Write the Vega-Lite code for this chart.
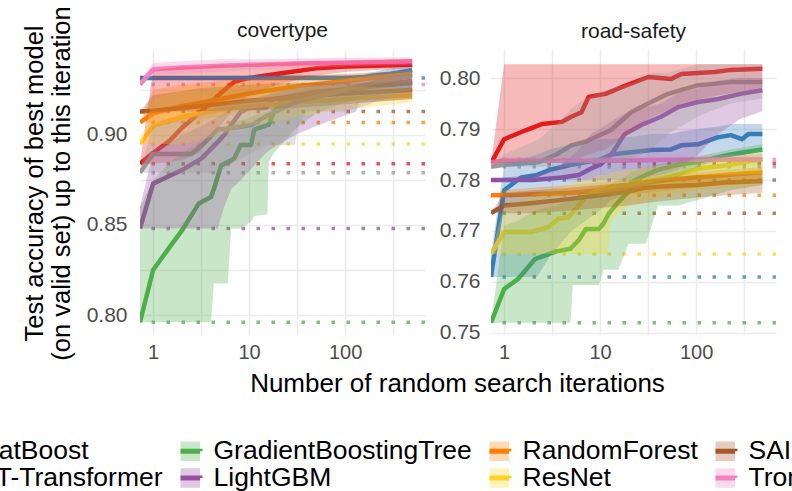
{
  "$schema": "https://vega.github.io/schema/vega-lite/v6.json",
  "padding": {"left": -57, "top": 5, "right": -40, "bottom": 0},
  "background": "white",
  "config": {
    "font": "Liberation Sans",
    "view": {"stroke": null},
    "axis": {"grid": true, "gridColor": "#EBEBEB", "gridWidth": 1.5, "domain": false, "ticks": false, "labelFont": "Liberation Sans", "labelColor": "#4D4D4D", "labelOverlap": false, "labelFlush": false, "titleFont": "Liberation Sans", "titleColor": "#000000", "titleFontWeight": "normal"}
  },
  "datasets": {
    "defaults": [
      {"d": "covertype", "m": "CatBoost", "v": 0.884},
      {"d": "covertype", "m": "FT-Transformer", "v": 0.9317},
      {"d": "covertype", "m": "GradientBoostingTree", "v": 0.796},
      {"d": "covertype", "m": "LightGBM", "v": 0.848},
      {"d": "covertype", "m": "RandomForest", "v": 0.907},
      {"d": "covertype", "m": "ResNet", "v": 0.895},
      {"d": "covertype", "m": "SAINT", "v": 0.913},
      {"d": "covertype", "m": "Trompt", "v": 0.928},
      {"d": "covertype", "m": "XGBoost", "v": 0.879},
      {"d": "road-safety", "m": "CatBoost", "v": 0.7833},
      {"d": "road-safety", "m": "FT-Transformer", "v": 0.761},
      {"d": "road-safety", "m": "GradientBoostingTree", "v": 0.752},
      {"d": "road-safety", "m": "LightGBM", "v": 0.78},
      {"d": "road-safety", "m": "RandomForest", "v": 0.777},
      {"d": "road-safety", "m": "ResNet", "v": 0.7655},
      {"d": "road-safety", "m": "SAINT", "v": 0.7735},
      {"d": "road-safety", "m": "Trompt", "v": 0.784},
      {"d": "road-safety", "m": "XGBoost", "v": 0.7826}
    ],
    "curves": [
      {"d": "covertype", "m": "CatBoost", "n": 0.73, "v": 0.884, "lo": 0.884, "hi": 0.884},
      {"d": "covertype", "m": "CatBoost", "n": 1, "v": 0.89, "lo": 0.884, "hi": 0.936},
      {"d": "covertype", "m": "CatBoost", "n": 1.5, "v": 0.897, "lo": 0.885, "hi": 0.937},
      {"d": "covertype", "m": "CatBoost", "n": 2, "v": 0.904, "lo": 0.886, "hi": 0.938},
      {"d": "covertype", "m": "CatBoost", "n": 3, "v": 0.912, "lo": 0.89, "hi": 0.938},
      {"d": "covertype", "m": "CatBoost", "n": 5, "v": 0.923, "lo": 0.905, "hi": 0.939},
      {"d": "covertype", "m": "CatBoost", "n": 7, "v": 0.9295, "lo": 0.915, "hi": 0.939},
      {"d": "covertype", "m": "CatBoost", "n": 10, "v": 0.9317, "lo": 0.922, "hi": 0.9395},
      {"d": "covertype", "m": "CatBoost", "n": 20, "v": 0.934, "lo": 0.928, "hi": 0.94},
      {"d": "covertype", "m": "CatBoost", "n": 50, "v": 0.937, "lo": 0.933, "hi": 0.941},
      {"d": "covertype", "m": "CatBoost", "n": 100, "v": 0.938, "lo": 0.935, "hi": 0.941},
      {"d": "covertype", "m": "CatBoost", "n": 200, "v": 0.9385, "lo": 0.936, "hi": 0.9415},
      {"d": "covertype", "m": "CatBoost", "n": 500, "v": 0.939, "lo": 0.937, "hi": 0.942},

      {"d": "covertype", "m": "FT-Transformer", "n": 0.73, "v": 0.9317, "lo": 0.9317, "hi": 0.9317},
      {"d": "covertype", "m": "FT-Transformer", "n": 1, "v": 0.9317, "lo": 0.9317, "hi": 0.9325},
      {"d": "covertype", "m": "FT-Transformer", "n": 10, "v": 0.9317, "lo": 0.9317, "hi": 0.933},
      {"d": "covertype", "m": "FT-Transformer", "n": 100, "v": 0.9317, "lo": 0.9317, "hi": 0.9335},
      {"d": "covertype", "m": "FT-Transformer", "n": 150, "v": 0.932, "lo": 0.9317, "hi": 0.934},
      {"d": "covertype", "m": "FT-Transformer", "n": 200, "v": 0.933, "lo": 0.9317, "hi": 0.935},
      {"d": "covertype", "m": "FT-Transformer", "n": 300, "v": 0.934, "lo": 0.932, "hi": 0.937},
      {"d": "covertype", "m": "FT-Transformer", "n": 500, "v": 0.936, "lo": 0.933, "hi": 0.938},

      {"d": "covertype", "m": "GradientBoostingTree", "n": 0.73, "v": 0.796, "lo": 0.796, "hi": 0.86},
      {"d": "covertype", "m": "GradientBoostingTree", "n": 1, "v": 0.825, "lo": 0.796, "hi": 0.875},
      {"d": "covertype", "m": "GradientBoostingTree", "n": 1.5, "v": 0.838, "lo": 0.796, "hi": 0.885},
      {"d": "covertype", "m": "GradientBoostingTree", "n": 2, "v": 0.847, "lo": 0.796, "hi": 0.89},
      {"d": "covertype", "m": "GradientBoostingTree", "n": 3, "v": 0.862, "lo": 0.796, "hi": 0.895},
      {"d": "covertype", "m": "GradientBoostingTree", "n": 4, "v": 0.8655, "lo": 0.796, "hi": 0.9},
      {"d": "covertype", "m": "GradientBoostingTree", "n": 4.3, "v": 0.87, "lo": 0.8175, "hi": 0.901},
      {"d": "covertype", "m": "GradientBoostingTree", "n": 5.1, "v": 0.883, "lo": 0.8175, "hi": 0.903},
      {"d": "covertype", "m": "GradientBoostingTree", "n": 6, "v": 0.885, "lo": 0.8175, "hi": 0.905},
      {"d": "covertype", "m": "GradientBoostingTree", "n": 6.5, "v": 0.886, "lo": 0.848, "hi": 0.906},
      {"d": "covertype", "m": "GradientBoostingTree", "n": 7, "v": 0.887, "lo": 0.848, "hi": 0.907},
      {"d": "covertype", "m": "GradientBoostingTree", "n": 8.2, "v": 0.8945, "lo": 0.848, "hi": 0.908},
      {"d": "covertype", "m": "GradientBoostingTree", "n": 10.5, "v": 0.8945, "lo": 0.852, "hi": 0.91},
      {"d": "covertype", "m": "GradientBoostingTree", "n": 11.3, "v": 0.903, "lo": 0.855, "hi": 0.911},
      {"d": "covertype", "m": "GradientBoostingTree", "n": 15.5, "v": 0.9055, "lo": 0.856, "hi": 0.913},
      {"d": "covertype", "m": "GradientBoostingTree", "n": 16, "v": 0.9055, "lo": 0.885, "hi": 0.914},
      {"d": "covertype", "m": "GradientBoostingTree", "n": 18.2, "v": 0.913, "lo": 0.89, "hi": 0.917},
      {"d": "covertype", "m": "GradientBoostingTree", "n": 21.6, "v": 0.918, "lo": 0.8945, "hi": 0.921},
      {"d": "covertype", "m": "GradientBoostingTree", "n": 30, "v": 0.92, "lo": 0.903, "hi": 0.924},
      {"d": "covertype", "m": "GradientBoostingTree", "n": 50, "v": 0.923, "lo": 0.912, "hi": 0.927},
      {"d": "covertype", "m": "GradientBoostingTree", "n": 100, "v": 0.925, "lo": 0.918, "hi": 0.929},
      {"d": "covertype", "m": "GradientBoostingTree", "n": 200, "v": 0.927, "lo": 0.922, "hi": 0.931},
      {"d": "covertype", "m": "GradientBoostingTree", "n": 500, "v": 0.929, "lo": 0.925, "hi": 0.932},

      {"d": "covertype", "m": "LightGBM", "n": 0.73, "v": 0.848, "lo": 0.848, "hi": 0.86},
      {"d": "covertype", "m": "LightGBM", "n": 1, "v": 0.873, "lo": 0.848, "hi": 0.89},
      {"d": "covertype", "m": "LightGBM", "n": 2, "v": 0.8805, "lo": 0.848, "hi": 0.9},
      {"d": "covertype", "m": "LightGBM", "n": 3.2, "v": 0.887, "lo": 0.848, "hi": 0.905},
      {"d": "covertype", "m": "LightGBM", "n": 4.7, "v": 0.896, "lo": 0.848, "hi": 0.91},
      {"d": "covertype", "m": "LightGBM", "n": 5.5, "v": 0.9, "lo": 0.86, "hi": 0.912},
      {"d": "covertype", "m": "LightGBM", "n": 6.5, "v": 0.9055, "lo": 0.87, "hi": 0.915},
      {"d": "covertype", "m": "LightGBM", "n": 8.2, "v": 0.913, "lo": 0.875, "hi": 0.918},
      {"d": "covertype", "m": "LightGBM", "n": 10, "v": 0.915, "lo": 0.88, "hi": 0.92},
      {"d": "covertype", "m": "LightGBM", "n": 15, "v": 0.915, "lo": 0.89, "hi": 0.922},
      {"d": "covertype", "m": "LightGBM", "n": 18, "v": 0.92, "lo": 0.893, "hi": 0.924},
      {"d": "covertype", "m": "LightGBM", "n": 30, "v": 0.922, "lo": 0.9, "hi": 0.926},
      {"d": "covertype", "m": "LightGBM", "n": 50, "v": 0.924, "lo": 0.905, "hi": 0.928},
      {"d": "covertype", "m": "LightGBM", "n": 130, "v": 0.926, "lo": 0.913, "hi": 0.93},
      {"d": "covertype", "m": "LightGBM", "n": 140, "v": 0.927, "lo": 0.918, "hi": 0.931},
      {"d": "covertype", "m": "LightGBM", "n": 500, "v": 0.93, "lo": 0.92, "hi": 0.934},

      {"d": "covertype", "m": "RandomForest", "n": 0.73, "v": 0.907, "lo": 0.907, "hi": 0.907},
      {"d": "covertype", "m": "RandomForest", "n": 1, "v": 0.912, "lo": 0.907, "hi": 0.925},
      {"d": "covertype", "m": "RandomForest", "n": 2, "v": 0.916, "lo": 0.907, "hi": 0.928},
      {"d": "covertype", "m": "RandomForest", "n": 5, "v": 0.92, "lo": 0.91, "hi": 0.93},
      {"d": "covertype", "m": "RandomForest", "n": 10, "v": 0.923, "lo": 0.913, "hi": 0.931},
      {"d": "covertype", "m": "RandomForest", "n": 30, "v": 0.927, "lo": 0.918, "hi": 0.933},
      {"d": "covertype", "m": "RandomForest", "n": 100, "v": 0.93, "lo": 0.924, "hi": 0.934},
      {"d": "covertype", "m": "RandomForest", "n": 500, "v": 0.934, "lo": 0.929, "hi": 0.936},

      {"d": "covertype", "m": "ResNet", "n": 0.73, "v": 0.895, "lo": 0.895, "hi": 0.895},
      {"d": "covertype", "m": "ResNet", "n": 1, "v": 0.905, "lo": 0.895, "hi": 0.92},
      {"d": "covertype", "m": "ResNet", "n": 2, "v": 0.91, "lo": 0.895, "hi": 0.925},
      {"d": "covertype", "m": "ResNet", "n": 5, "v": 0.914, "lo": 0.9, "hi": 0.927},
      {"d": "covertype", "m": "ResNet", "n": 10, "v": 0.916, "lo": 0.905, "hi": 0.928},
      {"d": "covertype", "m": "ResNet", "n": 30, "v": 0.918, "lo": 0.91, "hi": 0.928},
      {"d": "covertype", "m": "ResNet", "n": 100, "v": 0.92, "lo": 0.914, "hi": 0.927},
      {"d": "covertype", "m": "ResNet", "n": 500, "v": 0.922, "lo": 0.918, "hi": 0.926},

      {"d": "covertype", "m": "SAINT", "n": 0.73, "v": 0.913, "lo": 0.913, "hi": 0.913},
      {"d": "covertype", "m": "SAINT", "n": 1, "v": 0.9135, "lo": 0.913, "hi": 0.922},
      {"d": "covertype", "m": "SAINT", "n": 3, "v": 0.916, "lo": 0.913, "hi": 0.926},
      {"d": "covertype", "m": "SAINT", "n": 10, "v": 0.919, "lo": 0.914, "hi": 0.928},
      {"d": "covertype", "m": "SAINT", "n": 30, "v": 0.921, "lo": 0.915, "hi": 0.929},
      {"d": "covertype", "m": "SAINT", "n": 100, "v": 0.923, "lo": 0.917, "hi": 0.929},
      {"d": "covertype", "m": "SAINT", "n": 500, "v": 0.925, "lo": 0.92, "hi": 0.929},

      {"d": "covertype", "m": "Trompt", "n": 0.73, "v": 0.928, "lo": 0.928, "hi": 0.93},
      {"d": "covertype", "m": "Trompt", "n": 1, "v": 0.9365, "lo": 0.933, "hi": 0.94},
      {"d": "covertype", "m": "Trompt", "n": 2, "v": 0.9375, "lo": 0.934, "hi": 0.941},
      {"d": "covertype", "m": "Trompt", "n": 5, "v": 0.9385, "lo": 0.935, "hi": 0.942},
      {"d": "covertype", "m": "Trompt", "n": 10, "v": 0.939, "lo": 0.936, "hi": 0.942},
      {"d": "covertype", "m": "Trompt", "n": 30, "v": 0.9397, "lo": 0.937, "hi": 0.9425},
      {"d": "covertype", "m": "Trompt", "n": 100, "v": 0.9403, "lo": 0.938, "hi": 0.943},
      {"d": "covertype", "m": "Trompt", "n": 500, "v": 0.941, "lo": 0.939, "hi": 0.943},

      {"d": "covertype", "m": "XGBoost", "n": 0.73, "v": 0.879, "lo": 0.879, "hi": 0.88},
      {"d": "covertype", "m": "XGBoost", "n": 1, "v": 0.8895, "lo": 0.879, "hi": 0.905},
      {"d": "covertype", "m": "XGBoost", "n": 2.5, "v": 0.8895, "lo": 0.879, "hi": 0.91},
      {"d": "covertype", "m": "XGBoost", "n": 3.5, "v": 0.896, "lo": 0.879, "hi": 0.913},
      {"d": "covertype", "m": "XGBoost", "n": 4.7, "v": 0.903, "lo": 0.879, "hi": 0.916},
      {"d": "covertype", "m": "XGBoost", "n": 7, "v": 0.904, "lo": 0.885, "hi": 0.918},
      {"d": "covertype", "m": "XGBoost", "n": 10.5, "v": 0.9055, "lo": 0.89, "hi": 0.92},
      {"d": "covertype", "m": "XGBoost", "n": 15.8, "v": 0.911, "lo": 0.8945, "hi": 0.922},
      {"d": "covertype", "m": "XGBoost", "n": 21.6, "v": 0.9145, "lo": 0.8945, "hi": 0.924},
      {"d": "covertype", "m": "XGBoost", "n": 30, "v": 0.918, "lo": 0.8945, "hi": 0.926},
      {"d": "covertype", "m": "XGBoost", "n": 32, "v": 0.919, "lo": 0.905, "hi": 0.927},
      {"d": "covertype", "m": "XGBoost", "n": 40, "v": 0.92, "lo": 0.913, "hi": 0.928},
      {"d": "covertype", "m": "XGBoost", "n": 100, "v": 0.925, "lo": 0.913, "hi": 0.931},
      {"d": "covertype", "m": "XGBoost", "n": 137, "v": 0.927, "lo": 0.915, "hi": 0.932},
      {"d": "covertype", "m": "XGBoost", "n": 200, "v": 0.929, "lo": 0.918, "hi": 0.933},
      {"d": "covertype", "m": "XGBoost", "n": 500, "v": 0.933, "lo": 0.925, "hi": 0.935},

      {"d": "road-safety", "m": "CatBoost", "n": 0.73, "v": 0.7833, "lo": 0.7833, "hi": 0.7833},
      {"d": "road-safety", "m": "CatBoost", "n": 1, "v": 0.788, "lo": 0.7833, "hi": 0.8027},
      {"d": "road-safety", "m": "CatBoost", "n": 1.7, "v": 0.7898, "lo": 0.7835, "hi": 0.8027},
      {"d": "road-safety", "m": "CatBoost", "n": 2.5, "v": 0.791, "lo": 0.7835, "hi": 0.8027},
      {"d": "road-safety", "m": "CatBoost", "n": 4, "v": 0.7914, "lo": 0.784, "hi": 0.8027},
      {"d": "road-safety", "m": "CatBoost", "n": 5, "v": 0.7924, "lo": 0.784, "hi": 0.8027},
      {"d": "road-safety", "m": "CatBoost", "n": 6.4, "v": 0.7933, "lo": 0.7845, "hi": 0.8027},
      {"d": "road-safety", "m": "CatBoost", "n": 7.6, "v": 0.7963, "lo": 0.785, "hi": 0.8027},
      {"d": "road-safety", "m": "CatBoost", "n": 11.4, "v": 0.7969, "lo": 0.786, "hi": 0.8027},
      {"d": "road-safety", "m": "CatBoost", "n": 16.7, "v": 0.7982, "lo": 0.788, "hi": 0.8027},
      {"d": "road-safety", "m": "CatBoost", "n": 31.8, "v": 0.8002, "lo": 0.792, "hi": 0.8027},
      {"d": "road-safety", "m": "CatBoost", "n": 55, "v": 0.7998, "lo": 0.794, "hi": 0.8027},
      {"d": "road-safety", "m": "CatBoost", "n": 70, "v": 0.8008, "lo": 0.795, "hi": 0.8027},
      {"d": "road-safety", "m": "CatBoost", "n": 157, "v": 0.8012, "lo": 0.7965, "hi": 0.8027},
      {"d": "road-safety", "m": "CatBoost", "n": 230, "v": 0.8016, "lo": 0.797, "hi": 0.8027},
      {"d": "road-safety", "m": "CatBoost", "n": 490, "v": 0.8018, "lo": 0.798, "hi": 0.8027},

      {"d": "road-safety", "m": "FT-Transformer", "n": 0.73, "v": 0.761, "lo": 0.761, "hi": 0.7655},
      {"d": "road-safety", "m": "FT-Transformer", "n": 1, "v": 0.778, "lo": 0.761, "hi": 0.783},
      {"d": "road-safety", "m": "FT-Transformer", "n": 1.5, "v": 0.7805, "lo": 0.761, "hi": 0.784},
      {"d": "road-safety", "m": "FT-Transformer", "n": 2.2, "v": 0.781, "lo": 0.761, "hi": 0.785},
      {"d": "road-safety", "m": "FT-Transformer", "n": 3, "v": 0.782, "lo": 0.765, "hi": 0.786},
      {"d": "road-safety", "m": "FT-Transformer", "n": 5, "v": 0.783, "lo": 0.77, "hi": 0.787},
      {"d": "road-safety", "m": "FT-Transformer", "n": 10, "v": 0.784, "lo": 0.774, "hi": 0.788},
      {"d": "road-safety", "m": "FT-Transformer", "n": 13, "v": 0.785, "lo": 0.776, "hi": 0.788},
      {"d": "road-safety", "m": "FT-Transformer", "n": 34, "v": 0.7859, "lo": 0.779, "hi": 0.789},
      {"d": "road-safety", "m": "FT-Transformer", "n": 55, "v": 0.786, "lo": 0.78, "hi": 0.789},
      {"d": "road-safety", "m": "FT-Transformer", "n": 70, "v": 0.7868, "lo": 0.781, "hi": 0.7895},
      {"d": "road-safety", "m": "FT-Transformer", "n": 105, "v": 0.787, "lo": 0.7825, "hi": 0.79},
      {"d": "road-safety", "m": "FT-Transformer", "n": 170, "v": 0.7884, "lo": 0.784, "hi": 0.7905},
      {"d": "road-safety", "m": "FT-Transformer", "n": 230, "v": 0.7888, "lo": 0.785, "hi": 0.791},
      {"d": "road-safety", "m": "FT-Transformer", "n": 300, "v": 0.788, "lo": 0.785, "hi": 0.791},
      {"d": "road-safety", "m": "FT-Transformer", "n": 350, "v": 0.789, "lo": 0.7855, "hi": 0.791},
      {"d": "road-safety", "m": "FT-Transformer", "n": 490, "v": 0.789, "lo": 0.786, "hi": 0.791},

      {"d": "road-safety", "m": "GradientBoostingTree", "n": 0.73, "v": 0.752, "lo": 0.752, "hi": 0.752},
      {"d": "road-safety", "m": "GradientBoostingTree", "n": 1, "v": 0.7586, "lo": 0.752, "hi": 0.771},
      {"d": "road-safety", "m": "GradientBoostingTree", "n": 1.4, "v": 0.7606, "lo": 0.752, "hi": 0.772},
      {"d": "road-safety", "m": "GradientBoostingTree", "n": 2.1, "v": 0.7645, "lo": 0.752, "hi": 0.774},
      {"d": "road-safety", "m": "GradientBoostingTree", "n": 3.5, "v": 0.766, "lo": 0.752, "hi": 0.775},
      {"d": "road-safety", "m": "GradientBoostingTree", "n": 4.9, "v": 0.7665, "lo": 0.752, "hi": 0.776},
      {"d": "road-safety", "m": "GradientBoostingTree", "n": 5.2, "v": 0.767, "lo": 0.7594, "hi": 0.776},
      {"d": "road-safety", "m": "GradientBoostingTree", "n": 6, "v": 0.7682, "lo": 0.7594, "hi": 0.777},
      {"d": "road-safety", "m": "GradientBoostingTree", "n": 7.1, "v": 0.7704, "lo": 0.7594, "hi": 0.7775},
      {"d": "road-safety", "m": "GradientBoostingTree", "n": 9.7, "v": 0.7704, "lo": 0.7594, "hi": 0.778},
      {"d": "road-safety", "m": "GradientBoostingTree", "n": 10.9, "v": 0.7715, "lo": 0.7624, "hi": 0.7785},
      {"d": "road-safety", "m": "GradientBoostingTree", "n": 12.2, "v": 0.7733, "lo": 0.7624, "hi": 0.779},
      {"d": "road-safety", "m": "GradientBoostingTree", "n": 15.5, "v": 0.7757, "lo": 0.7624, "hi": 0.78},
      {"d": "road-safety", "m": "GradientBoostingTree", "n": 19.7, "v": 0.7776, "lo": 0.7675, "hi": 0.781},
      {"d": "road-safety", "m": "GradientBoostingTree", "n": 21, "v": 0.7796, "lo": 0.7675, "hi": 0.7815},
      {"d": "road-safety", "m": "GradientBoostingTree", "n": 30, "v": 0.781, "lo": 0.7675, "hi": 0.7825},
      {"d": "road-safety", "m": "GradientBoostingTree", "n": 40, "v": 0.782, "lo": 0.775, "hi": 0.783},
      {"d": "road-safety", "m": "GradientBoostingTree", "n": 65, "v": 0.783, "lo": 0.775, "hi": 0.784},
      {"d": "road-safety", "m": "GradientBoostingTree", "n": 100, "v": 0.7835, "lo": 0.776, "hi": 0.7845},
      {"d": "road-safety", "m": "GradientBoostingTree", "n": 230, "v": 0.785, "lo": 0.778, "hi": 0.786},
      {"d": "road-safety", "m": "GradientBoostingTree", "n": 490, "v": 0.786, "lo": 0.779, "hi": 0.787},

      {"d": "road-safety", "m": "LightGBM", "n": 0.73, "v": 0.78, "lo": 0.78, "hi": 0.78},
      {"d": "road-safety", "m": "LightGBM", "n": 1, "v": 0.78, "lo": 0.78, "hi": 0.7805},
      {"d": "road-safety", "m": "LightGBM", "n": 2, "v": 0.78, "lo": 0.78, "hi": 0.781},
      {"d": "road-safety", "m": "LightGBM", "n": 4, "v": 0.7805, "lo": 0.78, "hi": 0.783},
      {"d": "road-safety", "m": "LightGBM", "n": 6, "v": 0.781, "lo": 0.78, "hi": 0.786},
      {"d": "road-safety", "m": "LightGBM", "n": 8, "v": 0.7822, "lo": 0.78, "hi": 0.789},
      {"d": "road-safety", "m": "LightGBM", "n": 10, "v": 0.783, "lo": 0.78, "hi": 0.79},
      {"d": "road-safety", "m": "LightGBM", "n": 13, "v": 0.7849, "lo": 0.78, "hi": 0.7915},
      {"d": "road-safety", "m": "LightGBM", "n": 18, "v": 0.789, "lo": 0.78, "hi": 0.793},
      {"d": "road-safety", "m": "LightGBM", "n": 27, "v": 0.7908, "lo": 0.7805, "hi": 0.794},
      {"d": "road-safety", "m": "LightGBM", "n": 43, "v": 0.7924, "lo": 0.781, "hi": 0.795},
      {"d": "road-safety", "m": "LightGBM", "n": 65, "v": 0.7943, "lo": 0.782, "hi": 0.797},
      {"d": "road-safety", "m": "LightGBM", "n": 105, "v": 0.7953, "lo": 0.785, "hi": 0.798},
      {"d": "road-safety", "m": "LightGBM", "n": 170, "v": 0.7959, "lo": 0.789, "hi": 0.7995},
      {"d": "road-safety", "m": "LightGBM", "n": 290, "v": 0.7969, "lo": 0.792, "hi": 0.8},
      {"d": "road-safety", "m": "LightGBM", "n": 490, "v": 0.7976, "lo": 0.7935, "hi": 0.8},

      {"d": "road-safety", "m": "RandomForest", "n": 0.73, "v": 0.777, "lo": 0.777, "hi": 0.777},
      {"d": "road-safety", "m": "RandomForest", "n": 1, "v": 0.777, "lo": 0.777, "hi": 0.778},
      {"d": "road-safety", "m": "RandomForest", "n": 2, "v": 0.7772, "lo": 0.777, "hi": 0.7785},
      {"d": "road-safety", "m": "RandomForest", "n": 5, "v": 0.7775, "lo": 0.777, "hi": 0.779},
      {"d": "road-safety", "m": "RandomForest", "n": 10, "v": 0.778, "lo": 0.777, "hi": 0.7795},
      {"d": "road-safety", "m": "RandomForest", "n": 20, "v": 0.7787, "lo": 0.7772, "hi": 0.78},
      {"d": "road-safety", "m": "RandomForest", "n": 30, "v": 0.7795, "lo": 0.7775, "hi": 0.7805},
      {"d": "road-safety", "m": "RandomForest", "n": 50, "v": 0.78, "lo": 0.778, "hi": 0.781},
      {"d": "road-safety", "m": "RandomForest", "n": 100, "v": 0.7805, "lo": 0.7785, "hi": 0.7815},
      {"d": "road-safety", "m": "RandomForest", "n": 200, "v": 0.781, "lo": 0.779, "hi": 0.782},
      {"d": "road-safety", "m": "RandomForest", "n": 490, "v": 0.7815, "lo": 0.7795, "hi": 0.7825},

      {"d": "road-safety", "m": "ResNet", "n": 0.73, "v": 0.7655, "lo": 0.7655, "hi": 0.7655},
      {"d": "road-safety", "m": "ResNet", "n": 1, "v": 0.7698, "lo": 0.7655, "hi": 0.775},
      {"d": "road-safety", "m": "ResNet", "n": 1.9, "v": 0.7698, "lo": 0.7655, "hi": 0.777},
      {"d": "road-safety", "m": "ResNet", "n": 2.9, "v": 0.7708, "lo": 0.7655, "hi": 0.778},
      {"d": "road-safety", "m": "ResNet", "n": 3.7, "v": 0.7724, "lo": 0.7655, "hi": 0.7785},
      {"d": "road-safety", "m": "ResNet", "n": 4.7, "v": 0.7727, "lo": 0.7655, "hi": 0.779},
      {"d": "road-safety", "m": "ResNet", "n": 6, "v": 0.7751, "lo": 0.7655, "hi": 0.78},
      {"d": "road-safety", "m": "ResNet", "n": 7.1, "v": 0.7767, "lo": 0.7655, "hi": 0.78},
      {"d": "road-safety", "m": "ResNet", "n": 9.7, "v": 0.7782, "lo": 0.7655, "hi": 0.781},
      {"d": "road-safety", "m": "ResNet", "n": 12, "v": 0.7785, "lo": 0.7655, "hi": 0.781},
      {"d": "road-safety", "m": "ResNet", "n": 13, "v": 0.7787, "lo": 0.772, "hi": 0.7815},
      {"d": "road-safety", "m": "ResNet", "n": 20, "v": 0.779, "lo": 0.775, "hi": 0.782},
      {"d": "road-safety", "m": "ResNet", "n": 50, "v": 0.7805, "lo": 0.777, "hi": 0.783},
      {"d": "road-safety", "m": "ResNet", "n": 105, "v": 0.7822, "lo": 0.778, "hi": 0.784},
      {"d": "road-safety", "m": "ResNet", "n": 230, "v": 0.783, "lo": 0.7785, "hi": 0.7845},
      {"d": "road-safety", "m": "ResNet", "n": 490, "v": 0.7841, "lo": 0.779, "hi": 0.785},

      {"d": "road-safety", "m": "SAINT", "n": 0.73, "v": 0.7735, "lo": 0.7735, "hi": 0.7735},
      {"d": "road-safety", "m": "SAINT", "n": 1, "v": 0.775, "lo": 0.7735, "hi": 0.7775},
      {"d": "road-safety", "m": "SAINT", "n": 2, "v": 0.7755, "lo": 0.7735, "hi": 0.778},
      {"d": "road-safety", "m": "SAINT", "n": 5, "v": 0.7763, "lo": 0.774, "hi": 0.7785},
      {"d": "road-safety", "m": "SAINT", "n": 10, "v": 0.777, "lo": 0.7745, "hi": 0.779},
      {"d": "road-safety", "m": "SAINT", "n": 20, "v": 0.7778, "lo": 0.775, "hi": 0.7795},
      {"d": "road-safety", "m": "SAINT", "n": 30, "v": 0.7785, "lo": 0.7755, "hi": 0.78},
      {"d": "road-safety", "m": "SAINT", "n": 50, "v": 0.7788, "lo": 0.776, "hi": 0.7805},
      {"d": "road-safety", "m": "SAINT", "n": 100, "v": 0.779, "lo": 0.7765, "hi": 0.781},
      {"d": "road-safety", "m": "SAINT", "n": 200, "v": 0.7795, "lo": 0.777, "hi": 0.781},
      {"d": "road-safety", "m": "SAINT", "n": 490, "v": 0.7798, "lo": 0.7775, "hi": 0.7812},

      {"d": "road-safety", "m": "Trompt", "n": 0.73, "v": 0.7835, "lo": 0.7835, "hi": 0.7835},
      {"d": "road-safety", "m": "Trompt", "n": 1, "v": 0.7838, "lo": 0.7835, "hi": 0.7845},
      {"d": "road-safety", "m": "Trompt", "n": 10, "v": 0.7838, "lo": 0.7835, "hi": 0.7845},
      {"d": "road-safety", "m": "Trompt", "n": 100, "v": 0.784, "lo": 0.7835, "hi": 0.7848},
      {"d": "road-safety", "m": "Trompt", "n": 490, "v": 0.784, "lo": 0.7836, "hi": 0.785},

      {"d": "road-safety", "m": "XGBoost", "n": 0.73, "v": 0.7826, "lo": 0.7826, "hi": 0.7826},
      {"d": "road-safety", "m": "XGBoost", "n": 1, "v": 0.783, "lo": 0.7826, "hi": 0.785},
      {"d": "road-safety", "m": "XGBoost", "n": 2.3, "v": 0.7835, "lo": 0.7826, "hi": 0.788},
      {"d": "road-safety", "m": "XGBoost", "n": 3.5, "v": 0.785, "lo": 0.7826, "hi": 0.791},
      {"d": "road-safety", "m": "XGBoost", "n": 5, "v": 0.7868, "lo": 0.7826, "hi": 0.794},
      {"d": "road-safety", "m": "XGBoost", "n": 7, "v": 0.7875, "lo": 0.783, "hi": 0.796},
      {"d": "road-safety", "m": "XGBoost", "n": 13, "v": 0.7898, "lo": 0.7835, "hi": 0.798},
      {"d": "road-safety", "m": "XGBoost", "n": 21, "v": 0.7933, "lo": 0.784, "hi": 0.799},
      {"d": "road-safety", "m": "XGBoost", "n": 34, "v": 0.7953, "lo": 0.786, "hi": 0.801},
      {"d": "road-safety", "m": "XGBoost", "n": 51, "v": 0.7969, "lo": 0.789, "hi": 0.801},
      {"d": "road-safety", "m": "XGBoost", "n": 105, "v": 0.7986, "lo": 0.7925, "hi": 0.8027},
      {"d": "road-safety", "m": "XGBoost", "n": 230, "v": 0.7992, "lo": 0.795, "hi": 0.8027},
      {"d": "road-safety", "m": "XGBoost", "n": 490, "v": 0.7992, "lo": 0.796, "hi": 0.8027}
    ]
  },
  "spacing": 66,
  "bounds": "flush",
  "hconcat": [
    {
      "width": 285,
      "height": 285,
      "title": {"text": "covertype", "fontSize": 21, "fontWeight": "normal", "color": "#1A1A1A", "anchor": "middle", "offset": 13, "baseline": "alphabetic", "dy": 65},
      "layer": [
        {
          "data": {"name": "defaults"},
          "transform": [{"filter": "datum.d == 'covertype'"}],
          "mark": {"type": "rule", "strokeDash": [3.5, 11.5], "strokeWidth": 3.5, "opacity": 0.75},
          "encoding": {
            "y": {"field": "v", "type": "quantitative", "scale": {"domain": [0.7889, 0.9472], "nice": false, "zero": false},
              "axis": {"title": ["Test accuracy of best model", "(on valid set) up to this iteration"], "titleFontSize": 25.5, "titleLineHeight": 27, "titleX": -106, "titleY": 133, "titleBaseline": "middle", "titleAlign": "center", "titleAngle": -90,
                "values": [0.8, 0.825, 0.85, 0.875, 0.9, 0.925], "labelExpr": "abs(datum.value*20 - round(datum.value*20)) < 0.001 ? format(datum.value, '.2f') : ''", "labelFontSize": 21, "labelPadding": 13}},
            "color": {"field": "m", "type": "nominal", "scale": {"range": ["#E41A1C", "#377EB8", "#4DAF4A", "#984EA3", "#FF7F00", "#FFD320", "#A65628", "#F781BF", "#999999"]}, "legend": null}
          }
        },
        {
          "data": {"name": "curves"},
          "transform": [{"filter": "datum.d == 'covertype'"}],
          "mark": {"type": "line", "strokeWidth": 4.5, "strokeJoin": "round", "strokeCap": "butt", "clip": true},
          "encoding": {
            "x": {"field": "n", "type": "quantitative", "scale": {"type": "log", "domain": [0.73, 680], "nice": false},
              "axis": {"title": "Number of random search iterations", "titleFontSize": 26, "titleX": 317, "titleY": 56.5, "titleBaseline": "alphabetic", "titleAlign": "center",
                "values": [1, 3.1623, 10, 31.623, 100, 316.23], "labelExpr": "datum.value == 1 || datum.value == 10 || datum.value == 100 ? format(datum.value, 'd') : ''", "labelFontSize": 20, "labelPadding": 7}},
            "y": {"field": "v", "type": "quantitative", "scale": {"domain": [0.7889, 0.9472], "nice": false, "zero": false}},
            "stroke": {"field": "m", "type": "nominal",
              "scale": {"domain": ["CatBoost", "FT-Transformer", "GradientBoostingTree", "LightGBM", "RandomForest", "ResNet", "SAINT", "Trompt", "XGBoost"], "range": ["#E41A1C", "#377EB8", "#4DAF4A", "#984EA3", "#FF7F00", "#FFD320", "#A65628", "#F781BF", "#999999"]},
              "legend": {"title": null, "orient": "none", "legendX": -197, "legendY": 389, "direction": "horizontal", "columns": 4,
                "values": ["CatBoost", "GradientBoostingTree", "RandomForest", "SAINT", "FT-Transformer", "LightGBM", "ResNet", "Trompt"],
                "labelFontSize": 26.5, "labelFont": "Liberation Sans", "labelColor": "#000000", "labelLimit": 500, "labelOffset": 10, "columnPadding": 14, "rowPadding": 0, "clipHeight": 24,
                "symbolType": "M-1,0H1V1H-1V-1H1V0", "symbolSize": 380, "symbolStrokeWidth": 5, "symbolDash": [19.5, 300]}}
          }
        },
        {
          "data": {"name": "curves"},
          "transform": [{"filter": "datum.d == 'covertype'"}],
          "mark": {"type": "area", "fillOpacity": 0.3, "clip": true},
          "encoding": {
            "x": {"field": "n", "type": "quantitative", "scale": {"type": "log", "domain": [0.73, 680], "nice": false}},
            "y": {"field": "lo", "type": "quantitative", "scale": {"domain": [0.7889, 0.9472], "nice": false, "zero": false}},
            "y2": {"field": "hi"},
            "color": {"field": "m", "type": "nominal", "scale": {"range": ["#E41A1C", "#377EB8", "#4DAF4A", "#984EA3", "#FF7F00", "#FFD320", "#A65628", "#F781BF", "#999999"]}, "legend": null}
          }
        },
        {
          "data": {"name": "defaults"},
          "transform": [{"filter": "false"}],
          "mark": {"type": "rect"},
          "encoding": {
            "fill": {"field": "m", "type": "nominal",
              "scale": {"domain": ["CatBoost", "FT-Transformer", "GradientBoostingTree", "LightGBM", "RandomForest", "ResNet", "SAINT", "Trompt", "XGBoost"], "range": ["#F7BABB", "#C3D8EA", "#CAE7C9", "#E0CAE3", "#FFD9B3", "#FFF2BC", "#E4CCBF", "#FDD9EC", "#E0E0E0"]},
              "legend": {"title": null, "orient": "none", "legendX": -197, "legendY": 389, "direction": "horizontal", "columns": 4,
                "values": ["CatBoost", "GradientBoostingTree", "RandomForest", "SAINT", "FT-Transformer", "LightGBM", "ResNet", "Trompt"],
                "labelFontSize": 26.5, "labelFont": "Liberation Sans", "labelColor": "#000000", "labelLimit": 500, "labelOffset": 10, "columnPadding": 14, "rowPadding": 0, "clipHeight": 24,
                "symbolType": "M-1,0H1V1H-1V-1H1V0", "symbolSize": 380, "symbolStrokeWidth": 5, "symbolDash": [19.5, 300]}}
          }
        }
      ]
    },
    {
      "width": 285,
      "height": 285,
      "title": {"text": "road-safety", "fontSize": 21, "fontWeight": "normal", "color": "#1A1A1A", "anchor": "middle", "offset": 13, "baseline": "alphabetic", "dy": 22},
      "layer": [
        {
          "data": {"name": "defaults"},
          "transform": [{"filter": "datum.d == 'road-safety'"}],
          "mark": {"type": "rule", "strokeDash": [3.5, 11.5], "strokeWidth": 3.5, "opacity": 0.75},
          "encoding": {
            "y": {"field": "v", "type": "quantitative", "scale": {"domain": [0.7496, 0.8055], "nice": false, "zero": false},
              "axis": {"title": null,
                "values": [0.75, 0.755, 0.76, 0.765, 0.77, 0.775, 0.78, 0.785, 0.79, 0.795, 0.8, 0.805], "labelExpr": "abs(datum.value*100 - round(datum.value*100)) < 0.01 ? format(datum.value, '.2f') : ''", "labelFontSize": 21, "labelPadding": 11}},
            "color": {"field": "m", "type": "nominal", "legend": null}
          }
        },
        {
          "data": {"name": "curves"},
          "transform": [{"filter": "datum.d == 'road-safety'"}],
          "mark": {"type": "line", "strokeWidth": 4.5, "strokeJoin": "round", "strokeCap": "butt", "clip": true},
          "encoding": {
            "x": {"field": "n", "type": "quantitative", "scale": {"type": "log", "domain": [0.73, 680], "nice": false},
              "axis": {"title": null, "values": [1, 3.1623, 10, 31.623, 100, 316.23], "labelExpr": "datum.value == 1 || datum.value == 10 || datum.value == 100 ? format(datum.value, 'd') : ''", "labelFontSize": 20, "labelPadding": 7}},
            "y": {"field": "v", "type": "quantitative", "scale": {"domain": [0.7496, 0.8055], "nice": false, "zero": false}},
            "stroke": {"field": "m", "type": "nominal"}
          }
        },
        {
          "data": {"name": "curves"},
          "transform": [{"filter": "datum.d == 'road-safety'"}],
          "mark": {"type": "area", "fillOpacity": 0.3, "clip": true},
          "encoding": {
            "x": {"field": "n", "type": "quantitative", "scale": {"type": "log", "domain": [0.73, 680], "nice": false}},
            "y": {"field": "lo", "type": "quantitative", "scale": {"domain": [0.7496, 0.8055], "nice": false, "zero": false}},
            "y2": {"field": "hi"},
            "color": {"field": "m", "type": "nominal", "legend": null}
          }
        }
      ]
    }
  ]
}
